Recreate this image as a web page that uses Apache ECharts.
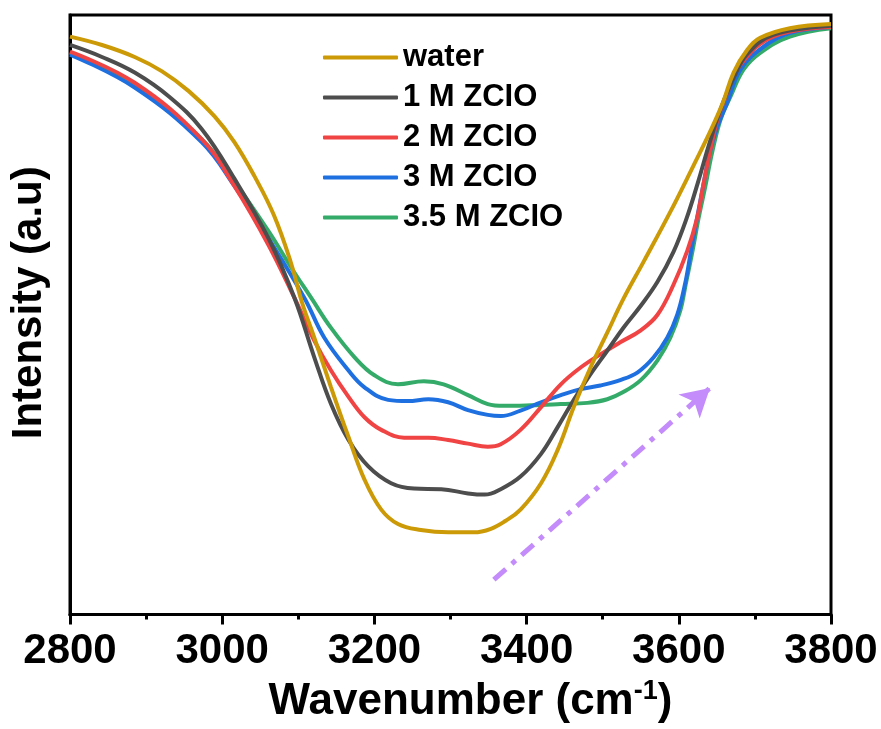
<!DOCTYPE html>
<html>
<head>
<meta charset="utf-8">
<script src="https://cdn.jsdelivr.net/npm/echarts@6/dist/echarts.min.js"></script>
<style>html,body{margin:0;padding:0;background:#fff;}#c{width:881px;height:729px;}</style>
</head>
<body>
<div id="c"></div>
<script>
const seriesNames = ['water', '1 M ZCIO', '2 M ZCIO', '3 M ZCIO', '3.5 M ZCIO'];
const colors = ['#CC9A06', '#4D4D4D', '#F04343', '#1E6FE0', '#35AB6A'];
const xTicks = [2800, 3000, 3200, 3400, 3600, 3800];

const water = [[2800,96.4],[2842,95.0],[2885,93.0],[2921,90.6],[2956,87.3],[2990,83.1],[3016,78.8],[3042,73.2],[3068,66.6],[3090,58.8],[3105,52.0],[3121,46.2],[3143,37.9],[3166,29.6],[3187,22.5],[3209,17.5],[3231,15.1],[3261,14.1],[3297,13.7],[3331,13.7],[3353,14.3],[3372,15.6],[3392,17.5],[3419,21.9],[3441,27.5],[3462,34.6],[3484,41.2],[3506,47.0],[3527,52.6],[3554,58.9],[3589,67.2],[3619,74.8],[3641,80.5],[3658,85.4],[3672,90.4],[3690,94.2],[3707,96.2],[3746,97.8],[3800,98.5]];
const m1 = [[2800,95.0],[2842,93.0],[2885,90.4],[2930,86.4],[2973,81.0],[3016,72.7],[3061,62.7],[3095,52.8],[3121,42.9],[3143,35.1],[3166,29.1],[3192,24.7],[3222,21.9],[3252,21.0],[3288,20.9],[3323,20.2],[3345,20.0],[3366,20.9],[3392,23.0],[3419,26.8],[3441,31.3],[3462,35.8],[3484,40.1],[3506,44.0],[3527,47.8],[3550,51.5],[3572,55.5],[3593,60.5],[3610,66.0],[3625,72.0],[3640,78.5],[3655,84.3],[3672,89.5],[3690,93.5],[3724,96.7],[3800,98.2]];
const m2 = [[2800,93.9],[2885,88.7],[2973,79.3],[3016,71.5],[3061,61.6],[3095,52.8],[3121,45.7],[3143,40.7],[3166,36.3],[3187,32.9],[3209,30.8],[3239,29.5],[3271,29.5],[3297,29.1],[3323,28.5],[3349,28.0],[3366,28.4],[3392,30.8],[3419,34.6],[3445,38.4],[3471,41.2],[3497,43.4],[3523,45.4],[3550,47.4],[3572,50.0],[3593,55.0],[3611,60.6],[3624,66.1],[3632,71.5],[3641,77.2],[3651,82.6],[3662,86.5],[3681,91.7],[3724,96.4],[3800,98.0]];
const m3 = [[2800,93.4],[2885,87.9],[2973,78.8],[3016,71.5],[3061,62.7],[3108,52.8],[3134,46.2],[3166,40.7],[3187,37.9],[3218,35.8],[3244,35.6],[3271,35.9],[3297,35.4],[3323,34.1],[3349,33.3],[3366,33.1],[3392,34.0],[3419,35.4],[3445,36.6],[3471,37.6],[3497,38.2],[3523,39.1],[3546,40.4],[3567,42.9],[3585,46.2],[3598,50.0],[3608,55.0],[3616,60.6],[3624,66.1],[3632,71.5],[3641,77.2],[3651,81.5],[3664,85.5],[3681,90.9],[3711,94.7],[3746,97.0],[3800,98.0]];
const m35 = [[2800,93.7],[2885,88.1],[2973,79.3],[3016,72.2],[3061,63.9],[3091,57.8],[3117,52.8],[3143,47.8],[3174,42.9],[3200,39.9],[3231,38.4],[3265,38.9],[3291,38.4],[3323,36.6],[3349,35.1],[3370,34.8],[3406,34.9],[3445,35.1],[3480,35.3],[3506,35.9],[3527,37.1],[3550,39.1],[3572,42.4],[3589,46.2],[3602,50.7],[3609,55.0],[3618,60.6],[3626,66.1],[3635,71.5],[3644,77.2],[3655,82.6],[3668,86.4],[3685,90.9],[3707,93.7],[3746,96.4],[3800,97.8]];
const arrowStart = [3357, 5.8];
const arrowEnd = [3641, 37.8];

const allData = [water, m1, m2, m3, m35];
const FONT = '"Liberation Sans", Arial, sans-serif';

const series = allData.map((d, i) => ({
  name: seriesNames[i],
  type: 'line',
  data: d,
  smooth: 0.4,
  symbol: 'none',
  lineStyle: { width: 4, color: colors[i] },
  itemStyle: { color: colors[i] },
  z: 10 - i
}));
series[0].markLine = {
  silent: true,
  symbol: ['none', 'arrow'],
  symbolSize: [24, 28],
  label: { show: false },
  lineStyle: { color: '#C38CFA', width: 5, type: [16, 8, 5, 8] },
  data: [[{ coord: arrowStart }, { coord: arrowEnd }]]
};

const chart = echarts.init(document.getElementById('c'), null, { renderer: 'canvas' });
chart.setOption({
  animation: false,
  backgroundColor: '#fff',
  grid: { left: 68, top: 15, right: 50, bottom: 110, show: true, borderColor: '#000', borderWidth: 3, backgroundColor: 'transparent' },
  legend: {
    left: 318, top: 37, orient: 'vertical',
    itemWidth: 75, itemHeight: 4, itemGap: 9,
    icon: 'roundRect',
    data: seriesNames,
    textStyle: { fontFamily: FONT, fontWeight: 'bold', fontSize: 31, color: '#000', lineHeight: 30 }
  },
  xAxis: {
    type: 'value', min: 2800, max: 3800, interval: 200,
    name: 'Wavenumber (cm{sup|-1})', nameLocation: 'middle', nameGap: 64,
    nameTextStyle: {
      fontFamily: FONT, fontWeight: 'bold', fontSize: 44, color: '#000', padding: [0, 0, 0, 40],
      rich: { sup: { fontFamily: FONT, fontWeight: 'bold', fontSize: 27, color: '#000', verticalAlign: 'top', padding: [0, 0, 20, 0] } }
    },
    axisLine: { show: true, lineStyle: { color: '#000', width: 3 } },
    axisTick: { show: true, length: 10, lineStyle: { color: '#000', width: 3 } },
    minorTick: { show: true, splitNumber: 2, length: 5, lineStyle: { color: '#000', width: 3 } },
    axisLabel: { fontFamily: FONT, fontWeight: 'bold', fontSize: 42, color: '#000', margin: 16,
      formatter: v => String(v) },
    splitLine: { show: false }
  },
  yAxis: {
    type: 'value', min: 0, max: 100,
    name: 'Intensity (a.u)', nameLocation: 'middle', nameGap: 20,
    nameTextStyle: { fontFamily: FONT, fontWeight: 'bold', fontSize: 42, color: '#000', padding: [0, 0, 0, 24] },
    axisLine: { show: true, lineStyle: { color: '#000', width: 3 } },
    axisTick: { show: false },
    axisLabel: { show: false },
    splitLine: { show: false }
  },
  series: series
});
</script>
</body>
</html>
